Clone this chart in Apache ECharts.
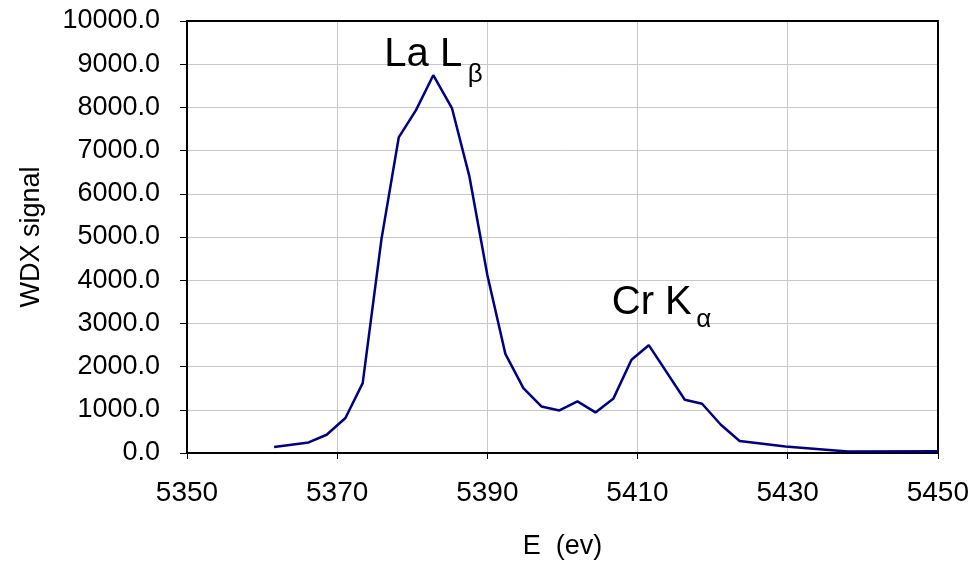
<!DOCTYPE html>
<html>
<head>
<meta charset="utf-8">
<script src="https://cdn.jsdelivr.net/npm/echarts@6/dist/echarts.min.js"></script>
<style>
  html, body { margin: 0; padding: 0; background: #ffffff; }
  #chart { width: 972px; height: 565px; }
</style>
</head>
<body>
<div id="chart"></div>
<script>
// WDX scan: photon energy (eV) against detector signal
const energy = [5361.6, 5366.2, 5368.6, 5371.1, 5373.4, 5375.9, 5378.2, 5380.5, 5382.8, 5385.3,
                5387.6, 5390.0, 5392.4, 5394.8, 5397.2, 5399.6, 5402.0, 5404.4, 5406.8, 5409.2,
                5411.5, 5416.3, 5418.6, 5421.1, 5423.6, 5429.7, 5438.0, 5450.0];
const signal = [139, 245, 423, 809, 1618, 4950, 7305, 7936, 8745, 7975,
                6410, 4120, 2295, 1502, 1078, 986, 1194, 940, 1264, 2157,
                2496, 1232, 1140, 654, 277, 153, 37, 40];

// Peak identifications: [main text, subscript, energy of the peak]
const peakLabels = [
  ['La L', 'β', 5382.8],
  ['Cr K', 'α', 5411.5]
];

const xTicks = { min: 5350, max: 5450, interval: 20 };
const yTicks = { min: 0, max: 10000, interval: 1000 };

const FONT = '"Liberation Sans", Arial, Helvetica, sans-serif';
const LINE_COLOR = '#000080';

const points = energy.map((e, i) => [e, signal[i]]);

function valueAt(e) {
  return signal[energy.indexOf(e)];
}

// main text and subscript drawn as two labels tied to the peak point
const labelOffsets = [
  { main: [-10, -20], sub: [42, 0] },
  { main: [3, -42], sub: [55, -25] }
];

const markData = [];
peakLabels.forEach((p, k) => {
  const coord = [p[2], valueAt(p[2])];
  markData.push({
    coord: coord,
    symbolSize: 0,
    label: {
      show: true, formatter: p[0], position: 'inside', offset: labelOffsets[k].main,
      fontSize: 40, color: '#000', fontFamily: FONT
    }
  });
  markData.push({
    coord: coord,
    symbolSize: 0,
    label: {
      show: true, formatter: p[1], position: 'inside', offset: labelOffsets[k].sub,
      fontSize: 26, color: '#000', fontFamily: FONT
    }
  });
});

// frame lines on the top and right edges of the plot area
const frameAxis = {
  show: true,
  axisLine: { show: true, onZero: false, lineStyle: { color: '#000', width: 2 } },
  axisTick: { show: false },
  axisLabel: { show: false },
  splitLine: { show: false }
};

const chart = echarts.init(document.getElementById('chart'), null, { renderer: 'canvas' });

chart.setOption({
  animation: false,
  backgroundColor: '#ffffff',
  grid: { left: 187, right: 34, top: 21, bottom: 112 },
  xAxis: [{
    type: 'value',
    min: xTicks.min, max: xTicks.max, interval: xTicks.interval,
    name: 'E  (ev)',
    nameLocation: 'middle',
    nameGap: 80,
    nameTextStyle: { fontSize: 27, color: '#000', fontFamily: FONT },
    axisLine: { show: true, onZero: false, lineStyle: { color: '#000', width: 2 } },
    axisTick: { show: true, inside: false, length: 6, lineStyle: { color: '#000', width: 1 } },
    axisLabel: {
      fontSize: 28, color: '#000', fontFamily: FONT, margin: 26,
      formatter: v => String(v)
    },
    splitLine: { show: true, lineStyle: { color: '#c8c8c8', width: 1 } }
  }, Object.assign({
    type: 'value', position: 'top',
    min: xTicks.min, max: xTicks.max, interval: xTicks.interval
  }, frameAxis)],
  yAxis: [{
    type: 'value',
    min: yTicks.min, max: yTicks.max, interval: yTicks.interval,
    name: 'WDX signal',
    nameLocation: 'middle',
    nameGap: 142,
    nameRotate: 90,
    nameTextStyle: { fontSize: 27, color: '#000', fontFamily: FONT },
    axisLine: { show: true, lineStyle: { color: '#000', width: 2 } },
    axisTick: { show: true, inside: false, length: 7, lineStyle: { color: '#000', width: 1 } },
    axisLabel: {
      fontSize: 27, color: '#000', fontFamily: FONT, margin: 27,
      formatter: v => v.toFixed(1)
    },
    splitLine: { show: true, lineStyle: { color: '#c8c8c8', width: 1 } }
  }, Object.assign({
    type: 'value', position: 'right',
    min: yTicks.min, max: yTicks.max, interval: yTicks.interval
  }, frameAxis)],
  series: [{
    type: 'line',
    data: points,
    showSymbol: false,
    smooth: false,
    clip: false,
    lineStyle: { color: LINE_COLOR, width: 2.5 },
    itemStyle: { color: LINE_COLOR },
    markPoint: {
      symbol: 'circle',
      itemStyle: { color: 'transparent' },
      data: markData
    }
  }]
});
</script>
</body>
</html>
